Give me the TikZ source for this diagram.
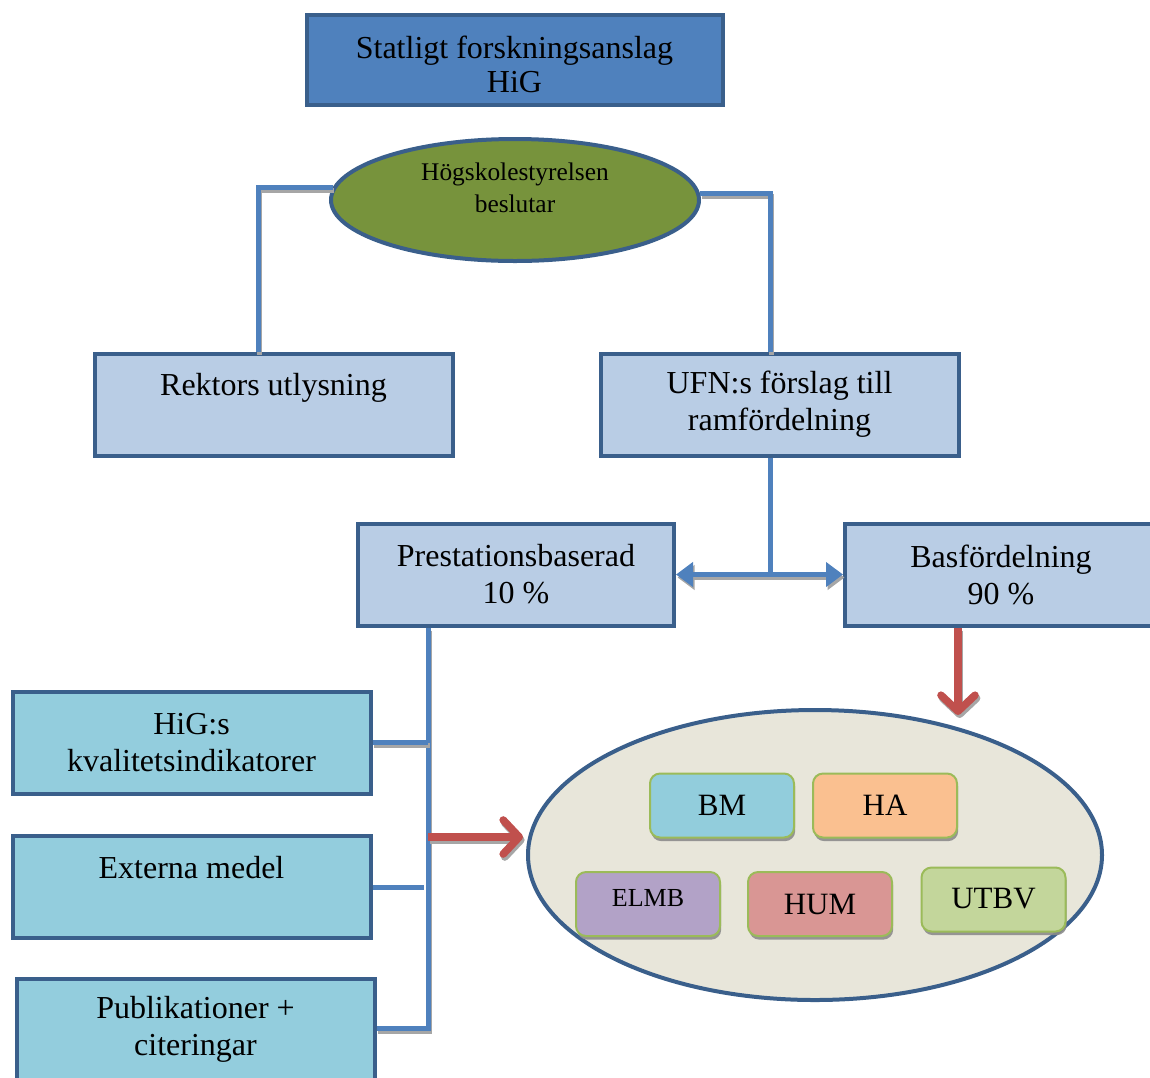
\documentclass[tikz,border=0pt]{standalone}
\usepackage{fontspec}
\setmainfont{Liberation Serif}
\usetikzlibrary{shapes.geometric,arrows.meta,calc,shadows}
\definecolor{topblue}{HTML}{4F81BD}
\definecolor{edgeblue}{HTML}{3A5F8B}
\definecolor{lightblue}{HTML}{B9CDE5}
\definecolor{cyanbox}{HTML}{93CDDD}
\definecolor{olive}{HTML}{77933C}
\definecolor{beige}{HTML}{E8E6DA}
\definecolor{redarr}{HTML}{C0504D}
\definecolor{greenedge}{HTML}{9BBB59}
\definecolor{bmfill}{HTML}{92CDDC}
\definecolor{hafill}{HTML}{FAC090}
\definecolor{elmbfill}{HTML}{B2A2C7}
\definecolor{humfill}{HTML}{D99694}
\definecolor{utbvfill}{HTML}{C3D69B}
\tikzset{
  mainfont/.style={font=\fontsize{16}{18.5}\selectfont, align=center},
  bigbox/.style={draw=edgeblue, line width=2pt, rectangle, minimum height=51pt, inner sep=0pt, mainfont},
  unitbox/.style={draw=greenedge, line width=1pt, rounded corners=5pt, minimum width=72pt, minimum height=32pt, inner sep=0pt,
     drop shadow={shadow xshift=0.6pt, shadow yshift=-1.8pt, fill=black!45, opacity=0.9}},
  conn/.style={draw=topblue, line width=2.5pt},
  blueheads/.style={{Triangle[width=12pt,length=8.5pt]}-{Triangle[width=12pt,length=8.5pt]}},
  redarrow/.style={draw=redarr, line width=3.8pt, -{Straight Barb[length=8pt,width=17pt,round]}},
  lineshadow/.style={draw=black!35},
}
\newcommand\shadowpath[2][]{%
  \begin{scope}[transform canvas={xshift=0.8pt,yshift=-1.5pt}]
    \draw[#1, lineshadow] #2;
  \end{scope}
  \draw[#1] #2;}
\begin{document}
\begin{tikzpicture}[x=0.5pt,y=-0.5pt]
\useasboundingbox (0,0) rectangle (1150,1077);

% top box
\node[bigbox, fill=topblue, minimum width=208pt, minimum height=45pt,
  label={[name=toptxt, align=center, font=\fontsize{16}{17}\selectfont, yshift=-2.5pt]center:Statligt forskningsanslag\\HiG}] (top) at (514.5,59.5) {};

% board ellipse
\node[ellipse, draw=edgeblue, line width=2pt, fill=olive, minimum width=184pt, minimum height=61pt, inner sep=0pt] (hs) at (515,200) {};
\node[font=\fontsize{12.7}{16}\selectfont, align=center] (hstxt) at (515,188) {Högskolestyrelsen\\beslutar};

% second row
\node[bigbox, fill=lightblue, minimum width=179pt] (rek) at (273.5,404.5) {\raisebox{20pt}{Rektors utlysning}};
\node[bigbox, fill=lightblue, minimum width=179pt] (ufn) at (779.5,404.5) {UFN:s förslag till\\ramfördelning};

% third row
\node[bigbox, fill=lightblue, minimum width=158pt] (pre) at (516,574.5) {Prestationsbaserad\\10 \%};
\node[bigbox, fill=lightblue, minimum width=156pt] (bas) at (1001,574.5) {Basfördelning\\90 \%};

% indicator boxes
\node[bigbox, fill=cyanbox, minimum width=179pt] (hig) at (191.5,742.5) {HiG:s\\kvalitetsindikatorer};
\node[bigbox, fill=cyanbox, minimum width=179pt] (ext) at (191.5,887) {\raisebox{20pt}{Externa medel}};
\node[bigbox, fill=cyanbox, minimum width=179pt] (pub) at (195.5,1029.5) {Publikationer +\\citeringar};

% big ellipse with units
\node[ellipse, draw=edgeblue, line width=2pt, fill=beige, minimum width=287pt, minimum height=145pt, inner sep=0pt] (big) at (815,855) {};
\node[unitbox, fill=bmfill, font=\fontsize{15.5}{18}\selectfont] (bm) at (722,805.5) {BM};
\node[unitbox, fill=hafill, font=\fontsize{15.5}{18}\selectfont] (ha) at (885,805.5) {HA};
\node[unitbox, fill=elmbfill, font=\fontsize{13}{16}\selectfont] (elmb) at (648,904) {\raisebox{6pt}{ELMB}};
\node[unitbox, fill=humfill, font=\fontsize{15.5}{18}\selectfont] (hum) at (820,904) {HUM};
\node[unitbox, fill=utbvfill, font=\fontsize{15.5}{18}\selectfont] (utbv) at (993.5,899.5) {\raisebox{1pt}{UTBV}};

% connectors
\coordinate (lv) at (258,0);
\coordinate (rv) at (770,0);
\coordinate (j) at (770,574.5);
\coordinate (bus) at (428,1028);
\coordinate (ra) at (428,837);
\coordinate (rd) at (958,715);

\shadowpath[conn]{(hs.176) -| (rek.north -| lv)}
\shadowpath[conn]{(hs.2) -| (ufn.north -| rv)}
\draw[conn] (ufn.south -| j) -- (j);
\shadowpath[conn, blueheads]{(pre.east) -- (bas.west)}
\shadowpath[conn]{(pre.south -| bus) -- (bus) -- (pub.east |- bus)}
\shadowpath[conn]{(hig.east) -- (hig.east -| bus)}
\draw[conn] (ext.east) -- ($(ext.east -| bus)+(-4,0)$);
\shadowpath[redarrow]{(ra) -- ($(big.west |- ra)+(-3,0)$)}
\shadowpath[redarrow]{(bas.south -| rd) -- (rd)}
\end{tikzpicture}
\end{document}
